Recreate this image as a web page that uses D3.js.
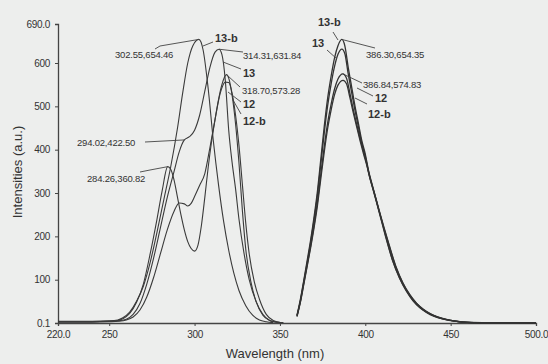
<!DOCTYPE html>
<html><head><meta charset="utf-8">
<script src="https://cdn.jsdelivr.net/npm/d3@7"></script>
<style>
html,body{margin:0;padding:0;background:#edeeed;}
svg{display:block;}
text{fill:#333;}
</style></head>
<body>
<svg id="c" width="548" height="364"></svg>
<script>
// ---------- data ----------
const xTickValues = [220, 250, 300, 350, 400, 450, 500];
const xTickLabels = ["220.0", "250", "300", "350", "400", "450", "500.0"];
const yTickValues = [0.1, 100, 200, 300, 400, 500, 600, 690];
const yTickLabels = ["0.1", "100", "200", "300", "400", "500", "600", "690.0"];

// excitation spectra [wavelength, intensity]
const ex13b = [[220,4],[230,4],[240,4],[250,5],[255,7],[258,12],[262,25],[266,50],[270,85],[274,140],[278,210],[282,285],[286,360],[290,450],[293,530],[296,600],[299,640],[302.55,654.46],[305,630],[308,540],[311,420],[314,320],[317,235],[320,168],[323,115],[326,75],[330,40],[334,18],[338,7],[342,3],[346,1]];
const ex13 = [[220,3],[230,3],[240,3],[250,4],[255,5],[260,9],[264,20],[268,45],[272,90],[276,150],[280,220],[284,290],[288,350],[291,395],[294.02,422.5],[297,430],[300,445],[303,480],[306,535],[309,590],[312,625],[314.31,631.84],[316,620],[318,560],[320,445],[322,370],[324,310],[326,240],[329,160],[332,100],[336,50],[340,20],[344,6],[348,2],[352,0.5]];
const ex12 = [[220,3],[230,3],[240,3],[250,4],[255,6],[258,10],[262,22],[266,48],[270,90],[274,160],[278,240],[281,305],[284.26,360.82],[286,355],[288,330],[290,290],[292,250],[294,215],[296,188],[298,172],[300,166],[302,180],[304,225],[306,290],[308,360],[310,420],[312,470],[314,515],[316,550],[318.7,573.28],[320,565],[322,525],[324,460],[326,370],[328,260],[330,170],[333,95],[336,50],[340,18],[344,6],[348,2],[352,0.5]];
const ex12b = [[220,2],[230,2],[240,2],[250,3],[255,4],[260,7],[264,14],[268,30],[272,60],[276,105],[280,160],[284,215],[288,258],[291,277],[294,275],[296,270],[298,276],[300,292],[303,318],[306,345],[309,405],[312,470],[315,530],[318,556],[320,555],[322,530],[324,480],[326,410],[328,320],[330,230],[332,160],[335,95],[338,55],[342,20],[346,6],[350,1.5]];

// emission spectra
const em13b = [[360,18],[362,55],[364,99],[366,145],[368,192],[370,245],[372,305],[374,380],[376,455],[378,520],[380,570],[382,612],[384,640],[386.3,654.35],[388,640],[390,590],[392,545],[394,500],[396,460],[398,420],[400,390],[402,350],[404,320],[406,290],[409,245],[412,200],[416,145],[420,105],[424,75],[428,52],[432,36],[436,25],[440,17],[445,10],[450,6],[455,3],[460,1.5],[470,0.6],[480,0.3],[490,0.2],[500,0.1]];
const em13 = [[360,17],[362,52],[364,96],[366,140],[368,186],[370,238],[372,296],[374,368],[376,440],[378,503],[380,552],[382,592],[384,620],[386.3,632],[388,622],[390,575],[392,532],[394,490],[396,452],[398,414],[400,385],[402,346],[404,316],[406,287],[409,243],[412,198],[416,144],[420,104],[424,74],[428,51],[432,35],[436,24],[440,16],[445,10],[450,6],[455,3],[460,1.5],[470,0.6],[480,0.3],[490,0.2],[500,0.1]];
const em12 = [[360,16],[362,50],[364,92],[366,135],[368,178],[370,226],[372,280],[374,345],[376,408],[378,463],[380,505],[382,540],[384,563],[386.84,574.83],[389,565],[391,530],[393,492],[395,458],[397,425],[399,395],[401,365],[403,332],[405,305],[408,262],[411,220],[414,180],[418,130],[422,93],[426,66],[430,46],[434,32],[438,22],[442,15],[447,9],[452,5],[457,2.5],[462,1.2],[470,0.6],[480,0.3],[490,0.2],[500,0.1]];
const em12b = [[360,15],[362,48],[364,90],[366,132],[368,174],[370,220],[372,272],[374,335],[376,396],[378,450],[380,492],[382,527],[384,549],[387,560],[389,552],[391,520],[393,485],[395,452],[397,420],[399,390],[401,362],[403,330],[405,303],[408,260],[411,218],[414,178],[418,128],[422,92],[426,65],[430,45],[434,31],[438,21],[442,14],[447,8],[452,4.5],[457,2.2],[462,1],[470,0.5],[480,0.3],[490,0.2],[500,0.1]];

const exSeries = [ex13b, ex13, ex12, ex12b];
const emSeries = [em13b, em13, em12, em12b];

// annotated points
const annWl   = [302.55, 314.31, 294.02, 284.26, 318.70, 386.30, 386.84];
const annVal  = [654.46, 631.84, 422.50, 360.82, 573.28, 654.35, 574.83];
const annText = ["302.55,654.46", "314.31,631.84", "294.02,422.50", "284.26,360.82", "318.70,573.28", "386.30,654.35", "386.84,574.83"];
const nameText = ["13-b", "13", "12", "12-b", "13-b", "13", "12", "12-b"];

// ---------- drawing ----------
const svg = d3.select("#c");
const x = d3.scaleLinear().domain([220, 500]).range([58, 536]);
const y = d3.scaleLinear().domain([0.1, 690]).range([323, 24]);

const line = d3.line().x(d => x(d[0])).y(d => y(d[1])).curve(d3.curveMonotoneX);

const gx = svg.append("g").attr("transform", "translate(0,323)")
  .call(d3.axisBottom(x).tickValues(xTickValues).tickFormat((d, i) => xTickLabels[i]).tickSize(3).tickPadding(5));
const gy = svg.append("g").attr("transform", "translate(58,0)")
  .call(d3.axisLeft(y).tickValues(yTickValues).tickFormat((d, i) => yTickLabels[i]).tickSize(3).tickPadding(5));
[gx, gy].forEach(g => {
  g.select(".domain").attr("stroke", "#444").attr("stroke-width", 1.3);
  g.selectAll(".tick line").attr("stroke", "#444");
  g.selectAll(".tick text").attr("fill", "#333").style("font-family", "Liberation Sans Narrow, Liberation Sans, Arial").style("font-size", "10px").style("letter-spacing", "-0.3px");
});

svg.append("g").selectAll("path").data(exSeries).join("path")
  .attr("d", line).attr("fill", "none").attr("stroke", "#3a3a3a").attr("stroke-width", 1.1);
svg.append("g").selectAll("path").data(emSeries).join("path")
  .attr("d", line).attr("fill", "none").attr("stroke", "#333").attr("stroke-width", 1.3);

// axis titles
svg.append("text").attr("x", 275).attr("y", 358).attr("text-anchor", "middle")
  .style("font-family", "Liberation Sans, Arial").style("font-size", "13px").attr("fill", "#444").text("Wavelength (nm)");
svg.append("text").attr("transform", "translate(22,172) rotate(-90)").attr("text-anchor", "middle")
  .style("font-family", "Liberation Sans, Arial").style("font-size", "13px").attr("fill", "#444").text("Intensities (a.u.)");

// value labels + leaders
const lblPos = [[115, 58, 160, 46], [243, 59, 243, 52], [77, 146, 145, 142], [87, 182, 150, 170], [242, 94, 240, 87], [366, 58, 375, 48], [363, 88, 362, 83]];
const ann = svg.append("g");
annText.forEach((t, i) => {
  const p = lblPos[i];
  ann.append("line").attr("x1", x(annWl[i])).attr("y1", y(annVal[i])).attr("x2", p[2]).attr("y2", p[3])
    .attr("stroke", "#444").attr("stroke-width", 0.9);
  ann.append("text").attr("x", p[0]).attr("y", p[1])
    .style("font-family", "Liberation Sans Narrow, Liberation Sans, Arial").style("font-size", "9.5px").style("letter-spacing", "-0.2px").text(t);
});
ann.append("line").attr("x1", 160).attr("y1", 46).attr("x2", 155).attr("y2", 49).attr("stroke", "#444").attr("stroke-width", 0.9);
ann.append("line").attr("x1", 150).attr("y1", 170).attr("x2", 140).attr("y2", 172).attr("stroke", "#444").attr("stroke-width", 0.9);

// series names
const namePos = [[215, 42, 203, 46, 213, 42], [243, 77, 223, 62, 241, 69], [243, 108, 228, 92, 241, 102], [243, 125, 233, 100, 241, 114],
                 [318, 26, 333, 32, 338, 40], [312, 47, 327, 50, 337, 59], [375, 102, 357, 88, 373, 96], [368, 118, 355, 98, 367, 104]];
nameText.forEach((t, i) => {
  const p = namePos[i];
  ann.append("line").attr("x1", p[2]).attr("y1", p[3]).attr("x2", p[4]).attr("y2", p[5]).attr("stroke", "#444").attr("stroke-width", 0.9);
  ann.append("text").attr("x", p[0]).attr("y", p[1])
    .style("font-family", "Liberation Sans, Arial").style("font-size", "11px").style("font-weight", "bold").text(t);
});
</script>
</body></html>
